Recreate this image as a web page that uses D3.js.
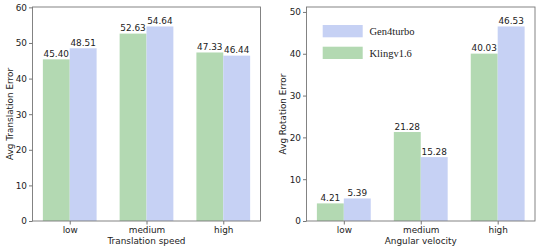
<!DOCTYPE html>
<html>
<head>
<meta charset="utf-8">
<script src="https://d3js.org/d3.v7.min.js"></script>
<style>
  body { margin: 0; background: #fff; }
  text { font-family: "DejaVu Sans", sans-serif; fill: #222; }
</style>
</head>
<body>
<svg id="chart" width="540" height="251"></svg>
<script>
// data
var categories = ['low', 'medium', 'high'];
var seriesNames = ['Klingv1.6', 'Gen4turbo'];
var transKling = [45.40, 52.63, 47.33];
var transGen = [48.51, 54.64, 46.44];
var rotKling = [4.21, 21.28, 40.03];
var rotGen = [5.39, 15.28, 46.53];
var transTicks = [0, 10, 20, 30, 40, 50, 60];
var rotTicks = [0, 10, 20, 30, 40, 50];

var green = '#b3d9b2', blue = '#c6d1f4';
var barW = 0.35;
var fs = '8.9px';
var svg = d3.select('#chart');

function panel(opts) {
  var g = svg.append('g');
  var xs = d3.scaleLinear().domain([-0.485, 2.485]).range([opts.left, opts.right]);
  var ymax = d3.max(opts.a.concat(opts.b)) * 1.1;
  var ys = d3.scaleLinear().domain([0, ymax]).range([221, 7]);

  // bars + value labels
  [opts.a, opts.b].forEach(function(vals, s) {
    g.selectAll(null)
      .data(vals)
      .enter()
      .append('rect')
        .attr('x', function(d, i) { return xs(i - barW + s * barW); })
        .attr('y', function(d) { return ys(d); })
        .attr('width', xs(barW) - xs(0))
        .attr('height', function(d) { return ys(0) - ys(d); })
        .attr('fill', s == 0 ? green : blue);
    g.selectAll(null)
      .data(vals)
      .enter()
      .append('text')
        .attr('x', function(d, i) { return xs(i - barW / 2 + s * barW); })
        .attr('y', function(d) { return ys(d) - 2.5; })
        .attr('text-anchor', 'middle')
        .style('font-size', fs)
        .text(function(d) { return d.toFixed(2); });
  });

  // frame
  g.append('rect')
    .attr('x', opts.left).attr('y', 7)
    .attr('width', opts.right - opts.left).attr('height', 214)
    .attr('fill', 'none').attr('stroke', '#777').attr('stroke-width', 0.9);

  // y axis
  var ya = g.append('g')
    .attr('transform', 'translate(' + opts.left + ',0)')
    .call(d3.axisLeft(ys).tickValues(opts.ticks).tickSize(3.5).tickPadding(2));
  ya.select('.domain').remove();
  ya.selectAll('line').attr('stroke', '#777');
  ya.selectAll('text').style('font-size', fs).style('font-family', '"DejaVu Sans", sans-serif').attr('fill', '#222');

  // x axis
  var xa = g.append('g')
    .attr('transform', 'translate(0,221)')
    .call(d3.axisBottom(xs).tickValues([0, 1, 2]).tickFormat(function(d) { return categories[d]; }).tickSize(3.5).tickPadding(2));
  xa.select('.domain').remove();
  xa.selectAll('line').attr('stroke', '#777');
  xa.selectAll('text').style('font-size', fs).style('font-family', '"DejaVu Sans", sans-serif').attr('fill', '#222');

  g.append('text')
    .attr('x', (opts.left + opts.right) / 2).attr('y', 244)
    .attr('text-anchor', 'middle').style('font-size', fs)
    .text(opts.xlabel);
  g.append('text')
    .attr('transform', 'translate(' + opts.ylabelX + ',114) rotate(-90)')
    .attr('text-anchor', 'middle').style('font-size', fs)
    .text(opts.ylabel);
  return g;
}

panel({ left: 32.5, right: 260.5, a: transKling, b: transGen, ticks: transTicks,
        xlabel: 'Translation speed', ylabel: 'Avg Translation Error', ylabelX: 13 });
panel({ left: 306.5, right: 535, a: rotKling, b: rotGen, ticks: rotTicks,
        xlabel: 'Angular velocity', ylabel: 'Avg Rotation Error', ylabelX: 286 });

// legend (right panel)
var legend = svg.append('g');
var legendItems = [seriesNames[1], seriesNames[0]];
legend.selectAll('rect')
  .data(legendItems)
  .enter()
  .append('rect')
    .attr('x', 322.7)
    .attr('y', function(d, i) { return 25 + i * 21.7; })
    .attr('width', 40)
    .attr('height', 12.3)
    .attr('fill', function(d) { return d == 'Klingv1.6' ? green : blue; });
legend.selectAll('text')
  .data(legendItems)
  .enter()
  .append('text')
    .attr('x', 369.5)
    .attr('y', function(d, i) { return 35 + i * 21.7; })
    .style('font-family', '"Liberation Serif", "Times New Roman", serif')
    .style('font-size', '10.5px')
    .text(function(d) { return d; });
</script>
</body>
</html>
